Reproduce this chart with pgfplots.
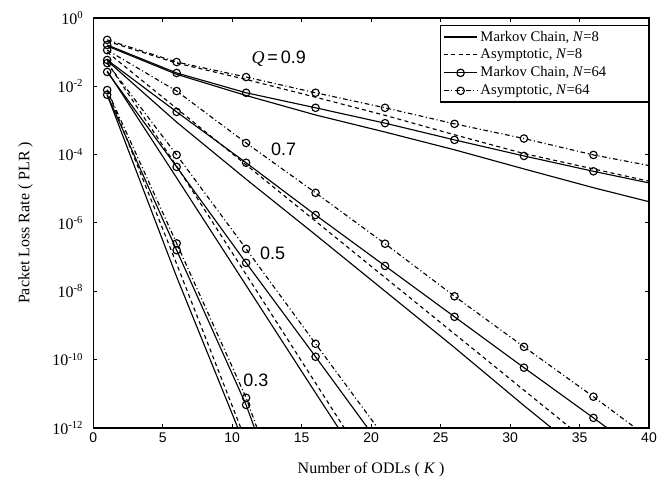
\documentclass[border=0pt]{standalone}
\usepackage{pgfplots}
\pgfplotsset{compat=1.18}
\usepackage{fontspec}
\setmainfont{Liberation Serif}
\newfontfamily\sansf{Liberation Sans}

\pgfplotsset{
  m8/.style={black, line width=0.85pt, no markers},
  a8/.style={black, line width=0.85pt, dash pattern=on 3pt off 2.5pt, no markers},
  m64/.style={black, line width=0.85pt, mark=o, mark size=2.8pt, mark options={solid}, mark indices={1,2,3,4,5,6,7,8}},
  a64/.style={black, line width=0.85pt, dash pattern=on 3.5pt off 2pt on 0.8pt off 2pt, mark=o, mark size=2.8pt, mark options={solid}, mark indices={1,2,3,4,5,6,7,8}},
}

\begin{document}
\begin{tikzpicture}
\useasboundingbox (-70pt,-43pt) rectangle (427.5pt,321pt);
\begin{axis}[
  scale only axis, width=417pt, height=307.5pt,
  xmin=0, xmax=40, ymin=-12, ymax=0,
  xtick={0,5,...,40}, xticklabels={0,5,10,15,20,25,30,35,40},
  ytick={-12,-10,...,0},
  yticklabels={10\textsuperscript{-12},10\textsuperscript{-10},10\textsuperscript{-8},10\textsuperscript{-6},10\textsuperscript{-4},10\textsuperscript{-2},10\textsuperscript{0}},
  tick align=inside, major tick length=3pt,
  axis line style={line width=1.1pt},
  every tick/.style={black, line width=0.8pt},
  xticklabel style={font=\sansf\fontsize{10.5}{12}\selectfont},
  yticklabel style={font=\fontsize{12}{14}\selectfont, xshift=-4pt},
  xlabel={Number of ODLs ( \textit{K} )},
  ylabel={Packet Loss Rate ( PLR )},
  label style={font=\fontsize{12}{14}\selectfont},
  xlabel style={at={(axis description cs:0.5,-0.102)}, anchor=center},
  ylabel style={at={(axis description cs:-0.122,0.5)}, anchor=center},
  legend style={at={(1,0.983)}, anchor=north east, draw=black, line width=0.9pt,
    font=\fontsize{11}{13}\selectfont, row sep=0.5pt, inner sep=2pt},
  legend cell align=left,
  legend image code/.code={\draw[#1, mark indices={2}] plot coordinates {(0pt,0pt) (12.5pt,0pt) (25pt,0pt)};},
]
% Q = 0.9
\addplot[m8] coordinates {(1,-0.82)(6,-1.65)(11,-2.27)(16,-2.84)(21,-3.34)(26,-3.86)(31,-4.42)(36,-4.97)(40,-5.38)};
\addlegendentry{\makebox[122pt][l]{Markov Chain, \textit{N}=8}}
\addplot[a8] coordinates {(1,-0.68)(6,-1.32)(11,-1.80)(16,-2.32)(21,-2.85)(26,-3.42)(31,-3.97)(36,-4.42)(40,-4.78)};
\addlegendentry{Asymptotic, \textit{N}=8}
\addplot[m64] coordinates {(1,-0.79)(6,-1.61)(11,-2.19)(16,-2.63)(21,-3.08)(26,-3.57)(31,-4.04)(36,-4.49)(40,-4.83)};
\addlegendentry{Markov Chain, \textit{N}=64}
\addplot[a64] coordinates {(1,-0.64)(6,-1.29)(11,-1.73)(16,-2.19)(21,-2.63)(26,-3.10)(31,-3.53)(36,-4.01)(40,-4.32)};
\addlegendentry{Asymptotic, \textit{N}=64}
% Q = 0.7
\addplot[m8, forget plot] coordinates {(1,-1.25)(6,-3.05)(11,-4.72)(16,-6.35)(21,-8.00)(26,-9.65)(31,-11.35)(36,-13.0)};
\addplot[a8, forget plot] coordinates {(1,-1.00)(6,-2.65)(11,-4.30)(16,-5.95)(21,-7.60)(26,-9.25)(31,-10.90)(36,-12.55)};
\addplot[m64, forget plot] coordinates {(1,-1.23)(6,-2.75)(11,-4.24)(16,-5.77)(21,-7.26)(26,-8.75)(31,-10.24)(36,-11.71)(40,-12.9)};
\addplot[a64, forget plot] coordinates {(1,-0.94)(6,-2.14)(11,-3.66)(16,-5.12)(21,-6.61)(26,-8.15)(31,-9.63)(36,-11.09)(40,-12.3)};
% Q = 0.5
\addplot[m8, forget plot] coordinates {(1,-1.55)(6,-4.68)(11,-7.83)(16,-10.98)(21,-14.1)};
\addplot[a8, forget plot] coordinates {(1,-1.30)(6,-4.34)(11,-7.51)(16,-10.69)(21,-13.87)};
\addplot[m64, forget plot] coordinates {(1,-1.58)(6,-4.36)(11,-7.17)(16,-9.92)(21,-12.7)};
\addplot[a64, forget plot] coordinates {(1,-1.32)(6,-4.01)(11,-6.76)(16,-9.54)(21,-12.3)};
% Q = 0.3
\addplot[m8, forget plot] coordinates {(1,-2.25)(6,-7.58)(11,-12.6)};
\addplot[a8, forget plot] coordinates {(1,-2.10)(6,-7.20)(11,-12.4)};
\addplot[m64, forget plot] coordinates {(1,-2.25)(6,-6.80)(11,-11.33)(12,-12.45)};
\addplot[a64, forget plot] coordinates {(1,-2.11)(6,-6.60)(11,-11.12)(12,-12.25)};
% labels
\node[font=\fontsize{13.5}{15}\selectfont] at (axis cs:13.35,-1.2) {\textit{Q}{\sansf\,=\,0.9}};
\node[font=\sansf\fontsize{13.5}{15}\selectfont] at (axis cs:13.7,-3.86) {0.7};
\node[font=\sansf\fontsize{13.5}{15}\selectfont] at (axis cs:12.9,-6.9) {0.5};
\node[font=\sansf\fontsize{13.5}{15}\selectfont] at (axis cs:11.7,-10.62) {0.3};
\end{axis}
\end{tikzpicture}
\end{document}
